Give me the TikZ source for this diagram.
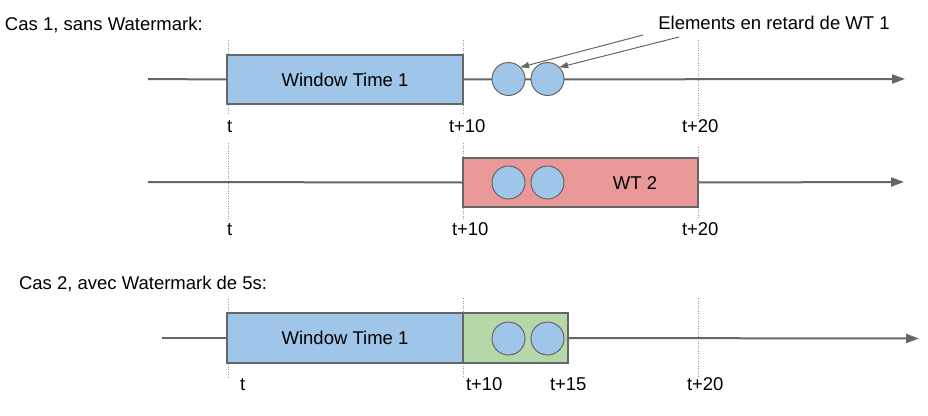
\documentclass[tikz,border=0pt]{standalone}
\usepackage{fontspec}
\setmainfont{Liberation Sans}
\usetikzlibrary{arrows.meta}
\definecolor{wblue}{HTML}{9FC5E8}
\definecolor{wred}{HTML}{EA9999}
\definecolor{wgreen}{HTML}{B6D7A8}
\definecolor{wgray}{HTML}{666666}
\begin{document}
\begin{tikzpicture}[x=1pt,y=-1pt,
  every node/.style={font=\fontsize{18.5}{22}\selectfont, inner sep=0pt, outer sep=0pt},
  winbox/.style={draw=wgray, line width=1.2pt, minimum height=49pt},
  elem/.style={circle, draw=wgray, line width=1pt, fill=wblue, minimum size=33pt},
  axis/.style={draw=wgray, line width=2pt},
  axisarrow/.style={axis, -{Triangle[length=13pt,width=9pt]}},
  guide/.style={draw=black!40, line width=0.8pt, dash pattern=on 1pt off 1.5pt},
  callout/.style={draw=wgray, line width=1pt, -{Triangle[length=9pt,width=6pt]}},
  lbl/.style={anchor=base west}
]
\useasboundingbox (0,0) rectangle (928,415);

% ---------- titles ----------
\node[lbl] (title1) at (5,30.5) {Cas 1, sans Watermark:};
\node[lbl] (title2) at (19,289) {Cas 2, avec Watermark de 5s:};

% ---------- guides ----------
\coordinate (g1a) at (228,40);  \coordinate (g1b) at (228,115);
\coordinate (g2a) at (463,40);  \coordinate (g2b) at (463,115);
\coordinate (g3a) at (698,40);  \coordinate (g3b) at (698,118);
\coordinate (g4a) at (228,143); \coordinate (g4b) at (228,220);
\coordinate (g5a) at (463,143); \coordinate (g5b) at (463,220);
\coordinate (g6a) at (698,147); \coordinate (g6b) at (698,218);
\coordinate (g7a) at (228,299); \coordinate (g7b) at (228,377);
\coordinate (g8a) at (463,298); \coordinate (g8b) at (463,377);
\coordinate (g9a) at (698,298); \coordinate (g9b) at (698,377);
\foreach \g in {1,...,9} {\draw[guide] (g\g a) -- (g\g b);}

% ---------- row 1 ----------
\coordinate (a1s) at (148,79);
\coordinate (a1e) at (905,79);
\node[winbox, fill=wblue, minimum width=236pt] (w1) at (345,79.5) {Window Time 1};
\draw[axis] (a1s) -- (w1.west);
\draw[axisarrow] (w1.east) -- (a1e);
\node[elem] (c11) at (508.5,79) {};
\node[elem] (c12) at (547.5,79) {};
\node (late) at (774,23) {Elements en retard de WT 1};
\coordinate (k1) at (643,35);
\coordinate (k2) at (679,37);
\draw[callout] (k1) -- (c11.north east);
\draw[callout] (k2) -- (c12.north east);
\node[lbl] (t1a) at (227,132.5) {t};
\node[lbl] (t1b) at (449,132.5) {t+10};
\node[lbl] (t1c) at (682,132.5) {t+20};

% ---------- row 2 ----------
\coordinate (a2s) at (148,182);
\coordinate (a2e) at (904,182);
\node[winbox, fill=wred, minimum width=235pt] (w2) at (580.5,182.5) {};
\node (w2t) at (635,183) {WT 2};
\draw[axis] (a2s) -- (w2.west);
\draw[axisarrow] (w2.east) -- (a2e);
\node[elem] (c21) at (508.5,182.5) {};
\node[elem] (c22) at (547.5,182.5) {};
\node[lbl] (t2a) at (227,235) {t};
\node[lbl] (t2b) at (452,235) {t+10};
\node[lbl] (t2c) at (682,235) {t+20};

% ---------- row 3 ----------
\coordinate (a3s) at (162,338);
\coordinate (a3e) at (919,338.5);
\node[winbox, fill=wblue, minimum width=236pt, minimum height=50pt] (w3) at (345,338) {Window Time 1};
\node[winbox, fill=wgreen, minimum width=105pt, minimum height=50pt] (w4) at (515.5,338) {};
\draw[axis] (a3s) -- (w3.west);
\draw[axisarrow] (w4.east) -- (a3e);
\node[elem] (c31) at (508.5,338.5) {};
\node[elem] (c32) at (547.5,338.5) {};
\node[lbl] (t3a) at (240,390.5) {t};
\node[lbl] (t3b) at (466,390.5) {t+10};
\node[lbl] (t3c) at (550,390.5) {t+15};
\node[lbl] (t3d) at (687,390.5) {t+20};
\end{tikzpicture}
\end{document}
